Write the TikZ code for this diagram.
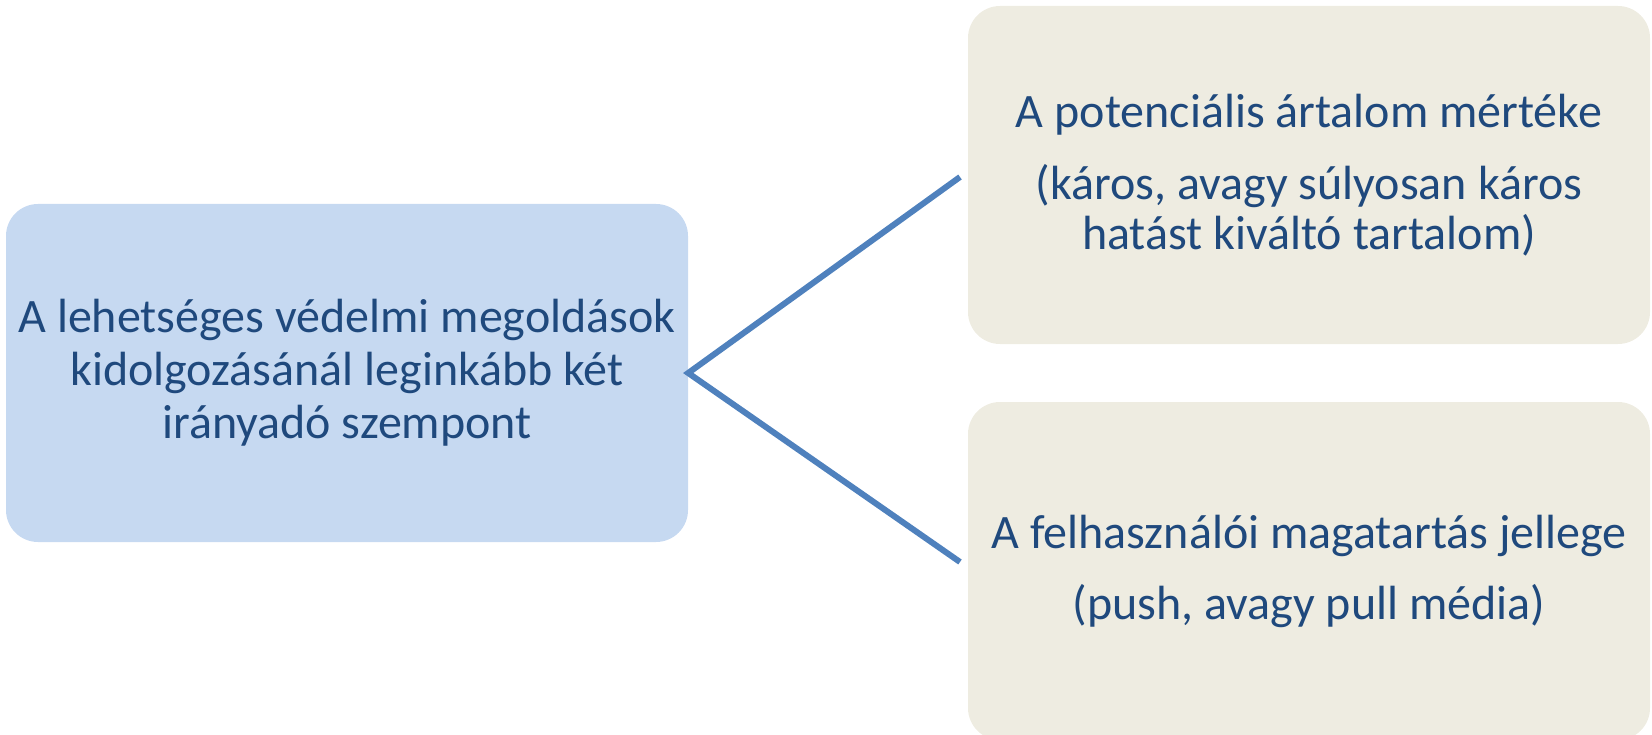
\documentclass[tikz,border=0pt]{standalone}
\usepackage{fontspec}
\setmainfont{Carlito}
\definecolor{lineblue}{HTML}{4F81BD}
\definecolor{leftfill}{HTML}{C6D9F1}
\definecolor{rightfill}{HTML}{EEECE1}
\definecolor{txt}{HTML}{1F497D}
\begin{document}
\begin{tikzpicture}[x=1pt,y=-1pt,
  boxstyle/.style={rounded corners=32pt, minimum width=682pt, minimum height=338pt,
    inner sep=0pt, align=center, text=txt, font=\fontsize{48}{53}\selectfont},
  rbox/.style={boxstyle, fill=rightfill, font=\fontsize{48}{50}\selectfont},
  conn/.style={draw=lineblue, line width=6pt}]
\useasboundingbox (0,0) rectangle (1652,735);
\begin{scope}
\clip (0,0) rectangle (1652,735);
\node[boxstyle, fill=leftfill] (L) at (347,373) {A lehetséges védelmi megoldások\\kidolgozásánál leginkább két\\irányadó szempont};
\node[rbox] (T) at (1309,175) {A potenciális ártalom mértéke\\[22pt](káros, avagy súlyosan káros\\hatást kiváltó tartalom)};
\node[rbox] (B) at (1309,571) {A felhasználói magatartás jellege\\[21pt](push, avagy pull média)};
\end{scope}
\coordinate (t1) at (960,177);
\coordinate (b1) at (960,562);
\draw[conn] (t1) -- (L.east) -- (b1);
\end{tikzpicture}
\end{document}
